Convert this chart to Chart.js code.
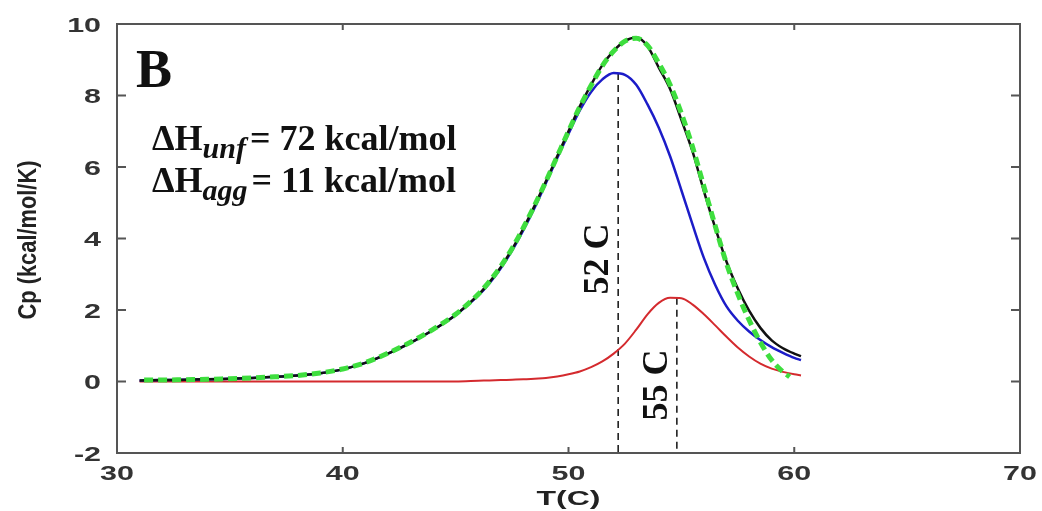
<!DOCTYPE html>
<html>
<head>
<meta charset="utf-8">
<script src="https://cdn.jsdelivr.net/npm/chart.js@4/dist/chart.umd.min.js"></script>
<style>
  html, body { margin: 0; padding: 0; background: #fff; }
  #wrap { width: 1042px; height: 511px; }
</style>
</head>
<body>
<div id="wrap"><canvas id="chart" width="1042" height="511"></canvas></div>
<script>
// temperature grid (C) shared by the measured and component curves
const temps = [31, 32, 33, 34, 35, 36, 37, 38, 39, 40, 41, 42, 43, 44, 45, 46,
  46.5, 47, 47.5, 48, 48.5, 49, 49.5, 50, 50.5, 51, 51.5, 52, 52.5, 53, 53.5,
  54, 54.5, 55, 55.5, 56, 56.5, 57, 57.5, 58, 58.5, 59, 59.5, 60, 60.3];

// measured excess heat capacity (black)
const totalCp = [0.03, 0.04, 0.05, 0.06, 0.08, 0.1, 0.13, 0.17, 0.23, 0.34, 0.52, 0.78, 1.08, 1.44, 1.86, 2.42,
  2.78, 3.2, 3.7, 4.28, 4.92, 5.6, 6.3, 7.0, 7.7, 8.3, 8.85, 9.25, 9.52, 9.62, 9.38,
  8.78, 8.18, 7.32, 6.42, 5.32, 4.3, 3.35, 2.6, 1.98, 1.5, 1.15, 0.93, 0.78, 0.71];

// unfolding component (blue)
const unfoldCp = [0.03, 0.04, 0.05, 0.06, 0.08, 0.1, 0.13, 0.17, 0.23, 0.34, 0.52, 0.78, 1.08, 1.44, 1.86, 2.4,
  2.75, 3.17, 3.66, 4.23, 4.86, 5.55, 6.25, 6.93, 7.58, 8.1, 8.45, 8.63, 8.58, 8.3, 7.75,
  7.1, 6.3, 5.35, 4.38, 3.45, 2.7, 2.1, 1.7, 1.4, 1.16, 0.96, 0.8, 0.66, 0.6];

// aggregation component (red)
const aggCp = [0, 0, 0, 0, 0, 0, 0, 0, 0, 0, 0, 0, 0, 0, 0, 0.02,
  0.03, 0.04, 0.05, 0.06, 0.08, 0.1, 0.14, 0.2, 0.28, 0.4, 0.56, 0.78, 1.06, 1.45, 1.88,
  2.2, 2.34, 2.33, 2.15, 1.88, 1.57, 1.25, 0.95, 0.7, 0.5, 0.36, 0.27, 0.2, 0.17];

// model fit (green dashed)
const fitTemps = [31.2, 32, 33, 34, 35, 36, 37, 38, 39, 40, 41, 42, 43, 44, 45, 46,
  46.5, 47, 47.5, 48, 48.5, 49, 49.5, 50, 50.5, 51, 51.5, 52, 52.5, 53, 53.5,
  54, 54.5, 55, 55.5, 56, 56.5, 57, 57.5, 58, 58.5, 59, 59.5, 59.8];
const fitCp = [0.04, 0.04, 0.05, 0.06, 0.08, 0.1, 0.13, 0.17, 0.24, 0.35, 0.53, 0.79, 1.1, 1.46, 1.88, 2.44,
  2.8, 3.22, 3.72, 4.3, 4.93, 5.6, 6.3, 7.0, 7.68, 8.28, 8.83, 9.24, 9.52, 9.6, 9.4,
  8.9, 8.3, 7.5, 6.55, 5.45, 4.35, 3.3, 2.45, 1.72, 1.1, 0.6, 0.27, 0.13];

// peak markers
const peakTemps = [52.2, 54.8];
const peakTops = [8.63, 2.34];
const peakLabels = ['52 C', '55 C'];
const peakLabelY = [259, 385];

const xTicks = [30, 40, 50, 60, 70];
const yTicks = [-2, 0, 2, 4, 6, 8, 10];

const pts = (xs, ys) => xs.map((x, i) => ({ x: x, y: ys[i] }));

const curve = (data, color, width, order) => ({
  data: data,
  borderColor: color,
  borderWidth: width,
  pointRadius: 0,
  cubicInterpolationMode: 'monotone',
  order: order
});

const markerSets = peakTemps.map((t, i) => ({
  data: [{ x: t, y: peakTops[i] }, { x: t, y: -2 }],
  borderColor: '#111',
  borderWidth: 1.5,
  borderDash: [7, 5],
  pointRadius: 0,
  order: 5
}));

function text(ctx, str, x, y, o) {
  ctx.save();
  ctx.translate(x, y);
  if (o.rot) ctx.rotate(o.rot);
  ctx.scale(o.sx || 1, 1);
  ctx.font = o.font;
  ctx.fillStyle = o.color || '#111';
  ctx.textAlign = o.align || 'left';
  ctx.textBaseline = o.base || 'alphabetic';
  ctx.fillText(str, 0, 0);
  ctx.restore();
}

// box, inward ticks and all the lettering
const framePlugin = {
  id: 'frame',
  afterDraw(chart) {
    const ctx = chart.ctx;
    const a = chart.chartArea;
    const xs = chart.scales.x, ys = chart.scales.y;

    ctx.save();
    ctx.strokeStyle = '#555';
    ctx.lineWidth = 2;
    ctx.strokeRect(a.left, a.top, a.right - a.left, a.bottom - a.top);
    ctx.beginPath();
    xTicks.forEach(v => {
      const px = xs.getPixelForValue(v);
      ctx.moveTo(px, a.bottom); ctx.lineTo(px, a.bottom - 6);
      ctx.moveTo(px, a.top); ctx.lineTo(px, a.top + 6);
    });
    yTicks.forEach(v => {
      const py = ys.getPixelForValue(v);
      ctx.moveTo(a.left, py); ctx.lineTo(a.left + 9, py);
      ctx.moveTo(a.right, py); ctx.lineTo(a.right - 9, py);
    });
    ctx.stroke();
    ctx.restore();

    const tickFont = 'bold 21px "Liberation Sans", Arial, sans-serif';
    yTicks.forEach(v => {
      text(ctx, String(v), a.left - 16, ys.getPixelForValue(v) + 7.5,
        { font: tickFont, sx: 1.45, align: 'right', color: '#333' });
    });
    xTicks.forEach(v => {
      text(ctx, String(v), xs.getPixelForValue(v), a.bottom + 27,
        { font: tickFont, sx: 1.45, align: 'center', color: '#333' });
    });

    text(ctx, 'T(C)', xs.getPixelForValue(50), 505,
      { font: 'bold 20px "Liberation Sans", Arial, sans-serif', sx: 1.6, align: 'center', color: '#222' });
    text(ctx, 'Cp (kcal/mol/K)', 29, 240,
      { font: 'bold 26px "Liberation Sans", Arial, sans-serif', sx: 0.84, rot: -Math.PI / 2,
        align: 'center', base: 'middle', color: '#222' });

    // panel letter and enthalpies
    text(ctx, 'B', 136, 87, { font: 'bold 54px "Liberation Serif", serif' });
    const main = 'bold 36px "Liberation Serif", serif';
    const sub = 'italic bold 30px "Liberation Serif", serif';
    [['unf', '= 72 kcal/mol', 150], ['agg', '= 11 kcal/mol', 192]].forEach(([s, rest, base]) => {
      let x = 152;
      ctx.font = main;
      text(ctx, '\u0394H', x, base, { font: main });
      x += ctx.measureText('\u0394H').width;
      ctx.font = sub;
      text(ctx, s, x, base + 8, { font: sub });
      x += ctx.measureText(s).width + 4;
      text(ctx, rest, x, base, { font: main });
    });

    // rotated peak temperatures beside the dashed markers
    const lab = 'bold 36px "Liberation Serif", serif';
    peakLabels.forEach((s, i) => {
      text(ctx, s, xs.getPixelForValue(peakTemps[i]) - 1, peakLabelY[i],
        { font: lab, rot: -Math.PI / 2, align: 'center', base: 'bottom' });
    });
  }
};

new Chart(document.getElementById('chart'), {
  type: 'line',
  data: {
    datasets: [
      Object.assign(curve(pts(fitTemps, fitCp), '#3ede3e', 5, 0), { borderDash: [9, 5] }),
      curve(pts(temps, totalCp), '#111', 2.5, 1),
      curve(pts(temps, unfoldCp), '#1c1cc8', 2.5, 2),
      curve(pts(temps, aggCp), '#d42a2e', 2, 3),
      ...markerSets
    ]
  },
  options: {
    responsive: false,
    animation: false,
    layout: { padding: { top: 24, right: 22, left: 0, bottom: 0 } },
    plugins: { legend: { display: false }, tooltip: { enabled: false } },
    scales: {
      x: {
        type: 'linear', min: 30, max: 70,
        ticks: { display: false, stepSize: 10 },
        grid: { display: false }, border: { display: false },
        afterFit(scale) { scale.height = 58; }
      },
      y: {
        min: -2, max: 10,
        ticks: { display: false, stepSize: 2 },
        grid: { display: false }, border: { display: false },
        afterFit(scale) { scale.width = 117; }
      }
    }
  },
  plugins: [framePlugin]
});
</script>
</body>
</html>
